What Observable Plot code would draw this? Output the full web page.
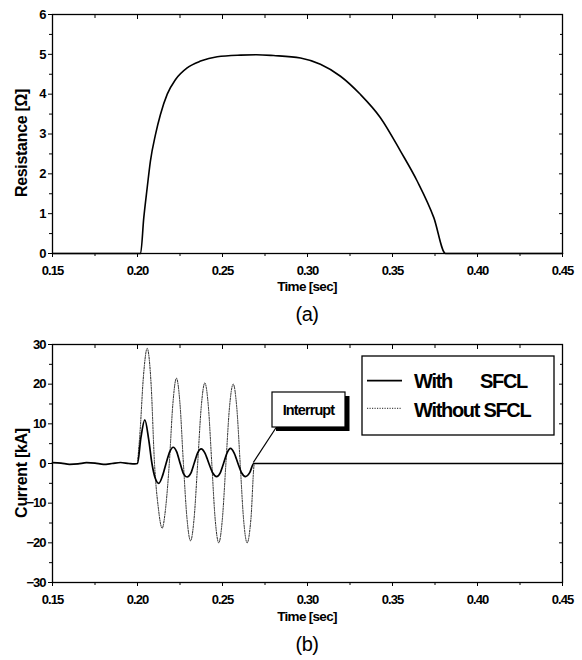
<!DOCTYPE html>
<html>
<head>
<meta charset="utf-8">
<script src="https://cdn.jsdelivr.net/npm/d3@7"></script>
<script src="https://cdn.jsdelivr.net/npm/@observablehq/plot@0.6"></script>
<style>
  html, body { margin: 0; padding: 0; background: #fff; }
  #chart { width: 582px; }
  #chart svg { display: block; }
</style>
</head>
<body>
<div id="chart"></div>
<script>
// ---- Data ----
const xTicks = [0.15, 0.20, 0.25, 0.30, 0.35, 0.40, 0.45];
const xMinor = [0.175, 0.225, 0.275, 0.325, 0.375, 0.425];
const resTicks = [0, 1, 2, 3, 4, 5, 6];
const resMinor = [0.5, 1.5, 2.5, 3.5, 4.5, 5.5];
const curTicks = [-30, -20, -10, 0, 10, 20, 30];
const curMinor = [-25, -15, -5, 5, 15, 25];

// (a) SFCL resistance [Ω]
const resTime  = [0.15, 0.2018, 0.2037, 0.2057, 0.2076, 0.2106, 0.2135, 0.2175, 0.2224, 0.2292, 0.2371, 0.2469, 0.2606, 0.2700, 0.2800, 0.2959, 0.3076, 0.3194, 0.3312, 0.3429, 0.3547, 0.3645, 0.3743, 0.3812, 0.45];
const resValue = [0,    0,      0.90,   1.65,   2.32,   2.99,   3.49,   4.00,   4.37,   4.66,   4.83,   4.94,   4.98,   4.99,   4.97,   4.91,   4.75,   4.45,   3.99,   3.41,   2.57,   1.82,   0.90,   0,      0];

// (b) Current [kA] with SFCL
const withTime  = [0.150, 0.155, 0.160, 0.165, 0.170, 0.175, 0.180, 0.185, 0.190, 0.195, 0.1985,
  0.2000, 0.2020, 0.2043, 0.2066, 0.2085, 0.2105, 0.2125, 0.2148, 0.2168, 0.2190, 0.2210, 0.2230,
  0.2251, 0.2271, 0.2292, 0.2313, 0.2333, 0.2354, 0.2375, 0.2396, 0.2420, 0.2443, 0.2465, 0.2486,
  0.2506, 0.2527, 0.2547, 0.2568, 0.2591, 0.2613, 0.2635, 0.2660, 0.2684, 0.45];
const withValue = [0.2, 0.1, -0.2, -0.1, 0.2, 0.1, -0.2, 0.0, 0.25, 0.0, -0.1,
  0, 6.5, 11, 6, 0, -3.8, -5, -3, 0, 3, 4.1, 3,
  0, -2.6, -3.4, -2.5, 0, 2.7, 3.7, 2.7, 0, -2.4, -3.3, -2.4,
  0, 2.7, 3.8, 2.7, 0, -2.4, -3.3, -2.3, 0, 0];

// (b) Current [kA] without SFCL
const withoutTime  = [0.2000, 0.2015, 0.2035, 0.2057, 0.2080, 0.2100, 0.2122, 0.2145, 0.2166,
  0.2187, 0.2208, 0.2229, 0.2250, 0.2270, 0.2291, 0.2312, 0.2333, 0.2354, 0.2375, 0.2396, 0.2417,
  0.2437, 0.2457, 0.2478, 0.2499, 0.2520, 0.2541, 0.2563, 0.2584, 0.2604, 0.2624, 0.2645, 0.2667,
  0.2688, 0.45];
const withoutValue = [0, 8, 22, 29, 20, 0, -11, -16.3, -11,
  0, 15, 21.5, 15, 0, -13.8, -19.5, -13.8, 0, 14.3, 20.3, 14.3,
  0, -14.1, -20, -14.1, 0, 14.1, 20, 14.1, 0, -14.1, -20, -14.1,
  0, 0];

const resData = resTime.map((t, i) => ({t, v: resValue[i]}));
const withData = withTime.map((t, i) => ({t, v: withValue[i]}));
const withoutData = withoutTime.map((t, i) => ({t, v: withoutValue[i]}));

const FONT = "'Liberation Sans', Arial, Helvetica, sans-serif";

function frameAxes(yTicks, yMinor, yFmt) {
  return [
    Plot.axisX({ticks: xTicks, tickSize: 4, tickPadding: 8, tickFormat: d3.format(".2f"), label: null, fontWeight: "bold", fontSize: 13}),
    Plot.axisX({ticks: xMinor, tickSize: 3, text: null, label: null}),
    Plot.axisX({anchor: "top", ticks: xTicks, tickSize: 4, text: null, label: null, dy: 4}),
    Plot.axisX({anchor: "top", ticks: xMinor, tickSize: 3, text: null, label: null, dy: 3}),
    Plot.axisY({ticks: yTicks, tickSize: 4, tickPadding: 3, tickFormat: yFmt, label: null, fontWeight: "bold", fontSize: 13}),
    Plot.axisY({ticks: yMinor, tickSize: 3, text: null, label: null}),
    Plot.axisY({anchor: "right", ticks: yTicks, tickSize: 4, text: null, label: null, dx: -4}),
    Plot.axisY({anchor: "right", ticks: yMinor, tickSize: 3, text: null, label: null, dx: -3}),
    Plot.frame({stroke: "black", strokeWidth: 1.3})
  ];
}

const common = {
  width: 582, height: 330,
  marginLeft: 52, marginRight: 20, marginTop: 14, marginBottom: 77,
  style: {fontFamily: FONT, fontSize: "13px", color: "black", background: "white", letterSpacing: "-1px", overflow: "visible"}
};

// ---- (a) ----
const plotA = Plot.plot({
  ...common,
  x: {domain: [0.15, 0.45]},
  y: {domain: [0, 6]},
  marks: [
    ...frameAxes(resTicks, resMinor, d3.format("d")),
    Plot.line(resData, {x: "t", y: "v", curve: "monotone-x", stroke: "black", strokeWidth: 1.6})
  ]
});

// ---- (b) ----
const plotB = Plot.plot({
  ...common,
  marginBottom: 78, marginTop: 14,
  x: {domain: [0.15, 0.45]},
  y: {domain: [-30, 30]},
  marks: [
    ...frameAxes(curTicks, curMinor, d3.format("d")),
    Plot.line(withoutData, {x: "t", y: "v", curve: "monotone-x", stroke: "#222", strokeWidth: 1, strokeDasharray: "1.2,1.3"}),
    Plot.line(withData, {x: "t", y: "v", curve: "monotone-x", stroke: "black", strokeWidth: 1.7})
  ]
});

const chart = document.getElementById("chart");
chart.appendChild(plotA);
chart.appendChild(plotB);

function addLabels(svgEl, yLabel, yLabelCenter, panel) {
  const svg = d3.select(svgEl);
  const g = svg.append("g").attr("font-family", FONT).attr("fill", "black");
  g.append("text")
    .attr("transform", `translate(21,${yLabelCenter}) rotate(-90)`)
    .attr("text-anchor", "middle").attr("dy", "0.36em")
    .attr("font-size", 16).attr("font-weight", "bold").attr("letter-spacing", "-0.3px")
    .text(yLabel);
  g.append("text")
    .attr("x", 307).attr("y", 291)
    .attr("text-anchor", "middle")
    .attr("font-size", 13.5).attr("font-weight", "bold").attr("letter-spacing", "-0.7px")
    .text("Time [sec]");
  g.append("text")
    .attr("x", 307).attr("y", 321)
    .attr("text-anchor", "middle")
    .attr("font-size", 20).attr("letter-spacing", "-0.5px")
    .text(panel);
}
addLabels(plotA, "Resistance [Ω]", 143, "(a)");
addLabels(plotB, "Current [kA]", 143, "(b)");

// Legend and callout for (b)
{
  const svg = d3.select(plotB);
  const xs = plotB.scale("x"), ys = plotB.scale("y");
  const g = svg.append("g").attr("font-family", FONT).attr("fill", "black");
  // callout "Interrupt"
  const ex = xs.apply(withTime[withTime.length - 2]);
  const ey = ys.apply(0);
  g.append("line").attr("x1", 276.5).attr("y1", 97).attr("x2", ex).attr("y2", ey - 0.5)
    .attr("stroke", "black").attr("stroke-width", 1.2);
  g.append("rect").attr("x", 276).attr("y", 66).attr("width", 73.5).attr("height", 35).attr("fill", "black");
  g.append("rect").attr("x", 272).attr("y", 62).attr("width", 73).attr("height", 35)
    .attr("fill", "white").attr("stroke", "black").attr("stroke-width", 1.2);
  g.append("text").attr("x", 308.5).attr("y", 85).attr("text-anchor", "middle")
    .attr("font-size", 14.5).attr("font-weight", "bold").attr("letter-spacing", "-0.9px")
    .text("Interrupt");
  // legend
  g.append("rect").attr("x", 362).attr("y", 26).attr("width", 192).attr("height", 79)
    .attr("fill", "white").attr("stroke", "black").attr("stroke-width", 1.3);
  g.append("line").attr("x1", 367).attr("x2", 402).attr("y1", 50.7).attr("y2", 50.7)
    .attr("stroke", "black").attr("stroke-width", 1.8);
  g.append("line").attr("x1", 367).attr("x2", 402).attr("y1", 78.3).attr("y2", 78.3)
    .attr("stroke", "#222").attr("stroke-width", 1).attr("stroke-dasharray", "1.2,1.3");
  const t1 = g.append("text").attr("y", 58).attr("text-anchor", "start")
    .attr("font-size", 20).attr("letter-spacing", "-1.3px").attr("font-weight", "bold");
  t1.append("tspan").attr("x", 414).text("With");
  t1.append("tspan").attr("x", 480).text("SFCL");
  g.append("text").attr("x", 414).attr("y", 86.5).attr("text-anchor", "start")
    .attr("font-size", 20).attr("letter-spacing", "-1.3px").attr("font-weight", "bold")
    .text("Without SFCL");
}
</script>
</body>
</html>
